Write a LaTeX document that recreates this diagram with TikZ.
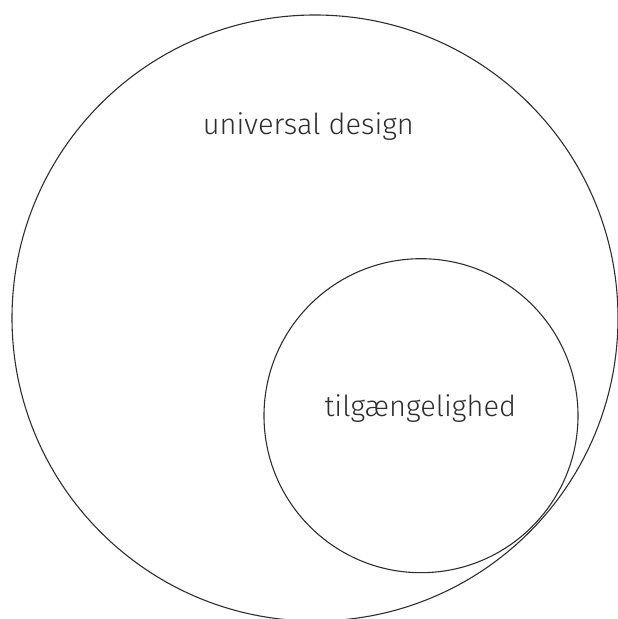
\documentclass[tikz,border=0pt]{standalone}
\usepackage{fontspec}
\setmainfont{Fira Sans Light}
\definecolor{ink}{HTML}{2E2E2E}
\begin{document}
\begin{tikzpicture}[x=1pt,y=1pt,
  ring/.style={draw=ink, line width=1.1pt},
  lab/.style={text=ink, anchor=base, inner sep=0pt, font=\fontsize{29}{34}\selectfont}]
\useasboundingbox (0,0) rectangle (618,619);
\clip (0,0) rectangle (618,619);
\node[ring, circle, minimum size=606pt, inner sep=0pt] (big) at (315,301) {};
\node[ring, circle, minimum size=314pt, inner sep=0pt] (small) at (421,203.3) {};
\node[lab] (ud) at (308.4,484) {universal design};
\node[lab] (tg) at (420.3,202) {tilgængelighed};
\end{tikzpicture}
\end{document}
